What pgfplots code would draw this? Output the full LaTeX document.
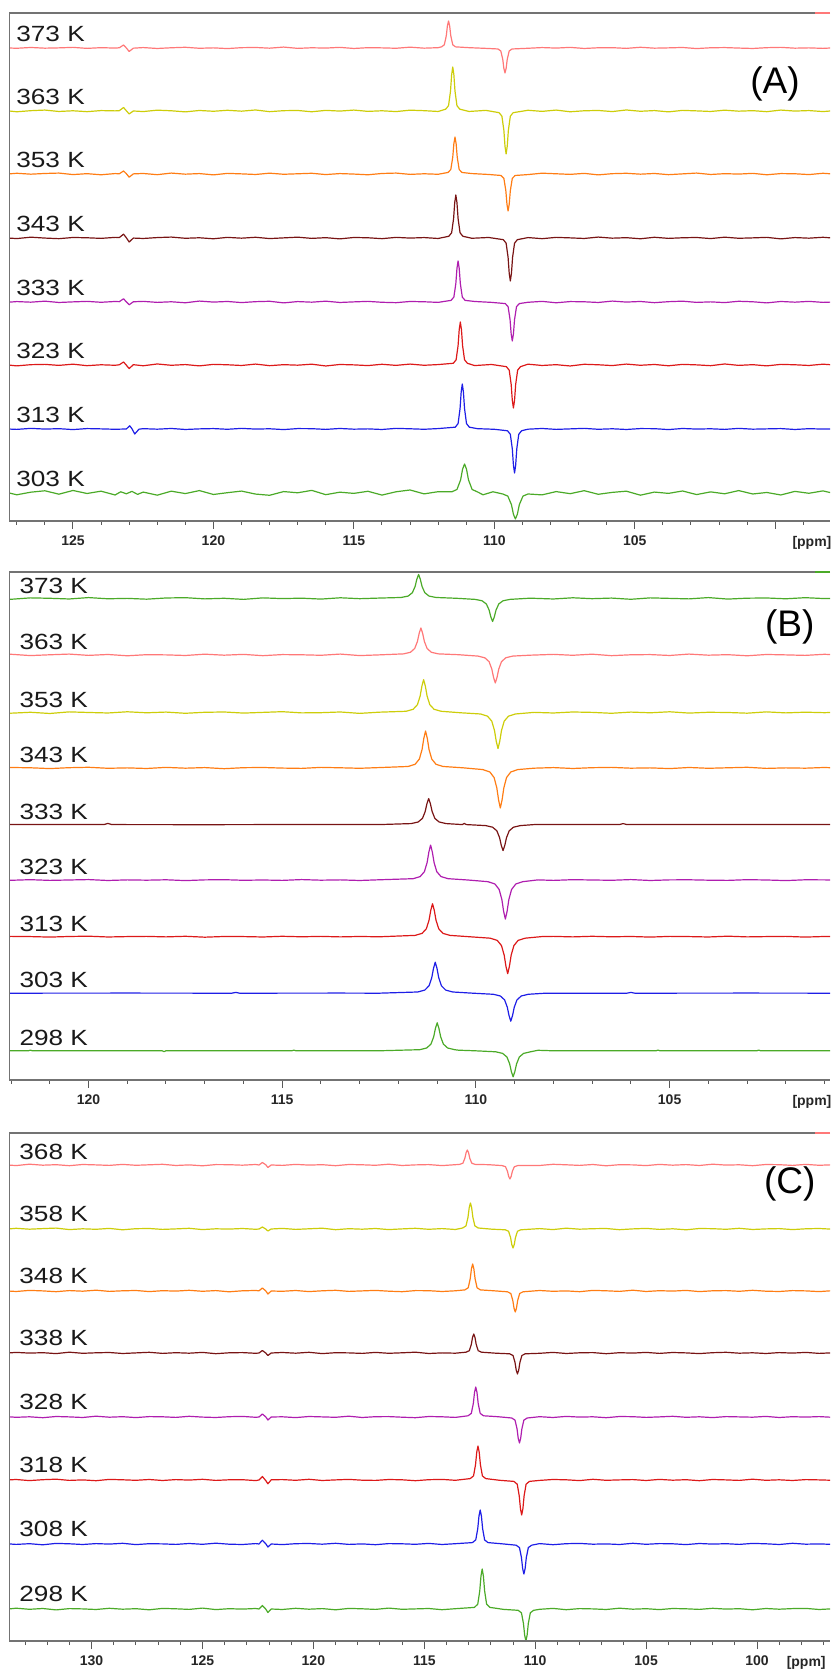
\documentclass[border=0pt]{standalone}
\usepackage{pgfplots}
\pgfplotsset{compat=1.18}
\usepackage{fontspec}
\setmainfont{Liberation Sans}
\definecolor{cpink}{RGB}{255,120,120}
\definecolor{cyel}{RGB}{205,205,10}
\definecolor{corg}{RGB}{255,125,20}
\definecolor{cbrn}{RGB}{120,20,20}
\definecolor{cpur}{RGB}{175,30,175}
\definecolor{cred}{RGB}{220,25,25}
\definecolor{cblu}{RGB}{30,30,230}
\definecolor{cgrn}{RGB}{75,170,40}
\newcommand{\lab}[1]{\scalebox{1.19}[1]{#1}}
\tikzset{klab/.style={anchor=west, inner sep=0pt, font=\fontsize{11}{13}\selectfont, text=black!90},
 plab/.style={anchor=center, inner sep=0pt, font=\fontsize{18.5}{22}\selectfont},
 ppm/.style={anchor=north, font=\fontsize{7}{8}\selectfont\bfseries, text=black!85, yshift=-4pt}}
\pgfplotsset{spec/.style={scale only axis, width=410.25pt, height=254pt, x dir=reverse,
 ymin=0, ymax=508, ytick=\empty, axis line style={draw=none}, xtick pos=lower,
 tick align=outside, major tick length=4pt, minor tick length=2pt,
 tick style={black!65, line width=0.5pt}, clip mode=individual,
 /pgf/number format/assume math mode=true,
 xticklabel style={font=\fontsize{7}{8}\selectfont\bfseries, text=black!85},
 every axis plot/.append style={line width=0.6pt, line join=round, mark=none}}}
\begin{document}
\begin{tikzpicture}
% ================= PANEL A =================
\begin{axis}[spec, at={(4.75pt,576pt)}, anchor=south west, xmin=98.05, xmax=127.26,
 xtick={100,105,110,115,120,125}, xticklabels={,105,110,115,120,125}, minor xtick={98,...,127}]
\addplot[cpink] table[row sep=\\, y expr=\thisrowno{1}+473] {
127.5 0.2\\127.0 -0.3\\126.5 0.5\\126.0 -0.2\\125.5 0.1\\125.0 0.6\\124.5 -0.4\\124.0 0.3\\123.5 -0.1\\
123.35 0.2\\123.2 3.0\\123.1 0.0\\123.0 -3.5\\122.85 -0.2\\
122.5 0.4\\122.0 -0.5\\121.5 0.2\\121.0 0.7\\120.5 -0.3\\120.0 0.1\\119.5 -0.6\\119.0 0.3\\118.5 0.5\\118.0 -0.2\\117.5 0.9\\117.0 -0.4\\116.5 0.2\\116.0 -0.1\\115.5 0.6\\115.0 -0.5\\114.5 0.3\\114.0 0.1\\113.5 -0.3\\113.0 0.8\\112.5 -0.2\\112.0 0.3\\
111.88 1.1\\111.78 3.2\\111.71 12.2\\111.67 22.1\\111.63 27\\111.59 22.1\\111.55 12.2\\111.48 3.2\\111.38 1.1\\
110.9 0.3\\110.3 -0.4\\
109.87 -1.0\\109.77 -3.0\\109.70 -11.3\\109.66 -20.5\\109.62 -25\\109.58 -20.5\\109.54 -11.3\\109.47 -3.0\\109.37 -1.0\\
108.8 -0.3\\108.3 0.4\\107.8 -0.1\\107.3 0.6\\106.8 -0.5\\106.3 0.2\\105.8 0.3\\105.3 -0.4\\104.8 0.7\\104.3 -0.2\\103.8 0.1\\103.3 0.5\\102.8 -0.6\\102.3 0.2\\101.8 0.4\\101.3 -0.1\\100.8 -0.5\\100.3 0.3\\99.8 0.6\\99.3 -0.2\\98.8 0.1\\98.3 -0.4\\97.8 0.3\\
};
\addplot[cyel] table[row sep=\\, y expr=\thisrowno{1}+410] {
127.5 0.6\\127.0 -0.8\\126.5 0.3\\126.0 0.9\\125.5 -0.5\\125.0 0.2\\124.5 -0.7\\124.0 0.4\\123.5 0.1\\
123.35 0.3\\123.2 3.5\\123.1 0.2\\123.0 -3.0\\122.85 0.0\\
122.5 -0.6\\122.0 0.8\\121.5 0.2\\121.0 -0.9\\120.5 0.5\\120.0 -0.3\\119.5 0.7\\119.0 -0.2\\118.5 1.0\\118.0 -0.7\\117.5 0.3\\117.0 0.5\\116.5 -0.8\\116.0 0.6\\115.5 -0.1\\115.0 0.9\\114.5 -0.4\\114.0 0.2\\113.5 -0.6\\113.0 0.8\\112.5 0.3\\112.0 -0.5\\
111.73 1.8\\111.63 5.3\\111.56 19.8\\111.52 36.1\\111.48 44\\111.44 36.1\\111.40 19.8\\111.33 5.3\\111.23 1.8\\
110.9 -0.5\\110.3 0.6\\
109.83 -1.7\\109.73 -5.2\\109.66 -19.4\\109.62 -35.3\\109.58 -43\\109.54 -35.3\\109.50 -19.4\\109.43 -5.2\\109.33 -1.7\\
108.8 0.7\\108.3 -0.4\\107.8 0.9\\107.3 -0.8\\106.8 0.2\\106.3 0.5\\105.8 -0.6\\105.3 1.0\\104.8 -0.3\\104.3 0.4\\103.8 -0.9\\103.3 0.6\\102.8 0.1\\102.3 -0.5\\101.8 0.8\\101.3 -0.2\\100.8 0.3\\100.3 -0.7\\99.8 0.9\\99.3 -0.1\\98.8 0.4\\98.3 -0.6\\97.8 0.5\\
};
\addplot[corg] table[row sep=\\, y expr=\thisrowno{1}+347] {
127.5 -0.4\\127.0 0.7\\126.5 -0.2\\126.0 0.5\\125.5 0.9\\125.0 -0.6\\124.5 0.3\\124.0 -0.8\\123.5 0.4\\
123.35 0.2\\123.2 3.0\\123.1 0.3\\123.0 -3.2\\122.85 0.1\\
122.5 0.5\\122.0 -0.7\\121.5 0.9\\121.0 -0.2\\120.5 0.4\\120.0 -0.9\\119.5 0.6\\119.0 0.1\\118.5 -0.5\\118.0 0.8\\117.5 -0.3\\117.0 0.2\\116.5 0.7\\116.0 -0.6\\115.5 0.4\\115.0 -0.1\\114.5 -0.8\\114.0 0.5\\113.5 0.9\\113.0 -0.4\\112.5 0.2\\112.0 -0.3\\
111.65 1.5\\111.55 4.4\\111.48 16.7\\111.44 30.3\\111.40 37\\111.36 30.3\\111.32 16.7\\111.25 4.4\\111.15 1.5\\
110.8 0.4\\110.2 -0.5\\
109.76 -1.5\\109.66 -4.4\\109.59 -16.7\\109.55 -30.3\\109.51 -37\\109.47 -30.3\\109.43 -16.7\\109.36 -4.4\\109.26 -1.5\\
108.8 -0.6\\108.3 0.8\\107.8 0.2\\107.3 -0.4\\106.8 0.6\\106.3 -0.9\\105.8 0.3\\105.3 0.7\\104.8 -0.2\\104.3 0.5\\103.8 -0.7\\103.3 0.1\\102.8 0.9\\102.3 -0.5\\101.8 0.3\\101.3 -0.1\\100.8 0.6\\100.3 -0.8\\99.8 0.4\\99.3 0.2\\98.8 -0.6\\98.3 0.7\\97.8 -0.3\\
};
\addplot[cbrn] table[row sep=\\, y expr=\thisrowno{1}+283] {
127.5 0.3\\127.0 -0.6\\126.5 0.8\\126.0 -0.1\\125.5 -0.7\\125.0 0.5\\124.5 0.2\\124.0 -0.4\\123.5 0.6\\
123.35 0.4\\123.2 3.8\\123.1 0.2\\123.0 -4.0\\122.85 -0.1\\
122.5 -0.5\\122.0 0.4\\121.5 0.9\\121.0 -0.3\\120.5 0.2\\120.0 -0.8\\119.5 0.6\\119.0 -0.2\\118.5 0.7\\118.0 -0.6\\117.5 0.1\\117.0 0.8\\116.5 -0.4\\116.0 0.3\\115.5 -0.9\\115.0 0.5\\114.5 0.2\\114.0 -0.7\\113.5 0.6\\113.0 -0.1\\112.5 0.4\\112.0 -0.5\\
111.62 1.7\\111.52 5.2\\111.45 19.4\\111.41 35.3\\111.37 43\\111.33 35.3\\111.29 19.4\\111.22 5.2\\111.12 1.7\\
110.8 -0.3\\110.2 0.5\\
109.68 -1.7\\109.58 -5.2\\109.51 -19.4\\109.47 -35.3\\109.43 -43\\109.39 -35.3\\109.35 -19.4\\109.28 -5.2\\109.18 -1.7\\
108.8 0.4\\108.3 -0.7\\107.8 0.6\\107.3 0.1\\106.8 -0.5\\106.3 0.9\\105.8 -0.2\\105.3 0.3\\104.8 -0.8\\104.3 0.7\\103.8 -0.4\\103.3 0.2\\102.8 0.5\\102.3 -0.6\\101.8 0.8\\101.3 -0.3\\100.8 0.1\\100.3 0.6\\99.8 -0.9\\99.3 0.4\\98.8 -0.2\\98.3 0.7\\97.8 -0.4\\
};
\addplot[cpur] table[row sep=\\, y expr=\thisrowno{1}+219] {
127.5 -0.7\\127.0 0.4\\126.5 -0.2\\126.0 0.8\\125.5 -0.5\\125.0 0.1\\124.5 0.6\\124.0 -0.3\\123.5 0.5\\
123.35 0.3\\123.2 3.2\\123.1 0.1\\123.0 -2.8\\122.85 0.2\\
122.5 0.6\\122.0 -0.4\\121.5 0.2\\121.0 -0.8\\120.5 0.9\\120.0 -0.1\\119.5 0.5\\119.0 -0.6\\118.5 0.3\\118.0 0.7\\117.5 -0.9\\117.0 0.4\\116.5 -0.2\\116.0 0.8\\115.5 -0.5\\115.0 0.1\\114.5 0.6\\114.0 -0.3\\113.5 -0.7\\113.0 0.5\\112.5 0.2\\112.0 -0.4\\
111.54 1.6\\111.44 4.9\\111.37 18.5\\111.33 33.6\\111.29 41\\111.25 33.6\\111.21 18.5\\111.14 4.9\\111.04 1.6\\
110.7 0.5\\110.1 -0.4\\
109.61 -1.6\\109.51 -4.7\\109.44 -17.6\\109.40 -32.0\\109.36 -39\\109.32 -32.0\\109.28 -17.6\\109.21 -4.7\\109.11 -1.6\\
108.8 -0.3\\108.3 0.6\\107.8 -0.8\\107.3 0.4\\106.8 0.2\\106.3 -0.5\\105.8 0.9\\105.3 -0.1\\104.8 0.5\\104.3 -0.7\\103.8 0.3\\103.3 0.8\\102.8 -0.4\\102.3 0.1\\101.8 -0.6\\101.3 0.7\\100.8 0.2\\100.3 -0.9\\99.8 0.5\\99.3 -0.2\\98.8 0.6\\98.3 -0.4\\97.8 0.1\\
};
\addplot[cred] table[row sep=\\, y expr=\thisrowno{1}+156] {
127.5 0.5\\127.0 -0.9\\126.5 0.3\\126.0 0.6\\125.5 -0.4\\125.0 0.8\\124.5 -0.7\\124.0 0.2\\123.5 -0.3\\
123.35 0.2\\123.2 3.0\\123.1 -0.2\\123.0 -3.6\\122.85 0.3\\
122.5 -0.8\\122.0 1.0\\121.5 -0.3\\121.0 0.4\\120.5 -0.9\\120.0 0.6\\119.5 0.2\\119.0 -0.5\\118.5 0.9\\118.0 -0.7\\117.5 0.3\\117.0 -0.2\\116.5 0.8\\116.0 -1.0\\115.5 0.5\\115.0 0.1\\114.5 -0.6\\114.0 0.7\\113.5 -0.4\\113.0 0.9\\112.5 -0.3\\112.0 0.4\\
111.46 1.7\\111.36 5.2\\111.29 19.4\\111.25 35.3\\111.21 43\\111.17 35.3\\111.13 19.4\\111.06 5.2\\110.96 1.7\\
110.7 -0.6\\110.1 0.5\\
109.57 -1.7\\109.47 -5.2\\109.40 -19.4\\109.36 -35.3\\109.32 -43\\109.28 -35.3\\109.24 -19.4\\109.17 -5.2\\109.07 -1.7\\
108.8 0.8\\108.3 -0.5\\107.8 0.3\\107.3 -1.0\\106.8 0.7\\106.3 0.2\\105.8 -0.6\\105.3 0.9\\104.8 -0.3\\104.3 0.5\\103.8 -0.8\\103.3 0.6\\102.8 0.1\\102.3 -0.7\\101.8 1.0\\101.3 -0.4\\100.8 0.3\\100.3 -0.9\\99.8 0.6\\99.3 0.2\\98.8 -0.5\\98.3 0.8\\97.8 -0.2\\
};
\addplot[cblu] table[row sep=\\, y expr=\thisrowno{1}+92] {
127.5 0.2\\127.0 -0.4\\126.5 0.6\\126.0 -0.1\\125.5 0.3\\125.0 -0.6\\124.5 0.4\\124.0 0.1\\123.5 -0.3\\
123.1 0.0\\122.98 3.2\\122.9 0.2\\122.8 -5.0\\122.65 -0.2\\
122.5 0.3\\122.0 -0.2\\121.5 0.5\\121.0 -0.5\\120.5 0.1\\120.0 0.4\\119.5 -0.3\\119.0 0.6\\118.5 -0.1\\118.0 0.2\\117.5 -0.6\\117.0 0.4\\116.5 0.3\\116.0 -0.4\\115.5 0.5\\115.0 -0.2\\114.5 0.1\\114.0 -0.5\\113.5 0.6\\113.0 0.2\\112.5 -0.3\\112.0 0.4\\
111.39 1.8\\111.29 5.4\\111.22 20.3\\111.18 36.9\\111.14 45\\111.10 36.9\\111.06 20.3\\110.99 5.4\\110.89 1.8\\
110.6 0.3\\110.0 -0.3\\
109.53 -1.8\\109.43 -5.3\\109.36 -19.8\\109.32 -36.1\\109.28 -44\\109.24 -36.1\\109.20 -19.8\\109.13 -5.3\\109.03 -1.8\\
108.8 -0.2\\108.3 0.5\\107.8 -0.4\\107.3 0.1\\106.8 0.6\\106.3 -0.3\\105.8 0.2\\105.3 -0.5\\104.8 0.4\\104.3 0.3\\103.8 -0.6\\103.3 0.5\\102.8 -0.1\\102.3 0.2\\101.8 -0.4\\101.3 0.6\\100.8 -0.2\\100.3 0.1\\99.8 0.4\\99.3 -0.5\\98.8 0.3\\98.3 -0.1\\97.8 0.2\\
};
\addplot[cgrn] table[row sep=\\, y expr=\thisrowno{1}+28] {
127.5 1.5\\127.0 -1.8\\126.5 0.8\\126.0 2.2\\125.5 -1.2\\125.0 2.5\\124.5 -0.5\\124.0 1.8\\123.5 -2.0\\
123.3 1.2\\123.1 -0.8\\122.9 1.6\\122.7 -1.4\\
122.5 0.9\\122.0 -2.2\\121.5 1.8\\121.0 -0.6\\120.5 2.4\\120.0 -1.5\\119.5 0.3\\119.0 1.9\\118.5 -1.1\\118.0 -2.3\\117.5 1.4\\117.0 0.2\\116.5 2.6\\116.0 -1.7\\115.5 0.8\\115.0 -0.4\\114.5 1.7\\114.0 -2.1\\113.5 1.2\\113.0 3.0\\112.5 -0.9\\112.0 1.3\\
111.51 1.2\\111.33 3.5\\111.20 13.1\\111.13 23.8\\111.06 29\\110.99 23.8\\110.92 13.1\\110.79 3.5\\110.61 1.2\\
110.4 -1.8\\110.05 1.2\\
109.70 -1.0\\109.52 -3.1\\109.39 -11.7\\109.32 -21.3\\109.25 -26\\109.18 -21.3\\109.11 -11.7\\108.98 -3.1\\108.80 -1.0\\
108.3 -1.9\\107.8 1.4\\107.3 -0.7\\106.8 2.3\\106.3 -1.3\\105.8 0.6\\105.3 1.8\\104.8 -2.2\\104.3 0.9\\103.8 -0.4\\103.3 2.0\\102.8 -1.6\\102.3 1.1\\101.8 -0.8\\101.3 2.4\\100.8 -1.0\\100.3 0.5\\99.8 -2.0\\99.3 1.6\\98.8 -0.3\\98.3 2.1\\97.8 -1.2\\
};
\draw[black!55, line width=0.8pt] (axis description cs:1,1) -- (axis description cs:0,1) -- (axis description cs:0,0) -- (axis description cs:1,0);
\draw[cpink, line width=0.9pt] (axis description cs:0.982,1) -- (axis description cs:1,1);
\node[klab] at (axis cs:127.03,487) {\lab{373 K}};
\node[klab] at (axis cs:127.03,424) {\lab{363 K}};
\node[klab] at (axis cs:127.03,361) {\lab{353 K}};
\node[klab] at (axis cs:127.03,297) {\lab{343 K}};
\node[klab] at (axis cs:127.03,233) {\lab{333 K}};
\node[klab] at (axis cs:127.03,170) {\lab{323 K}};
\node[klab] at (axis cs:127.03,106) {\lab{313 K}};
\node[klab] at (axis cs:127.03,42) {\lab{303 K}};
\node[plab] at (axis description cs:0.933,0.860) {(A)};
\node[ppm] at (axis description cs:0.978,0) {[ppm]};
\end{axis}
% ================= PANEL B =================
\begin{axis}[spec, at={(4.75pt,296.5pt)}, anchor=south west, xmin=100.86, xmax=122.04,
 xtick={105,110,115,120}, xticklabels={105,110,115,120}, minor xtick={101,...,122}]
\addplot[cgrn] table[row sep=\\, y expr=\thisrowno{1}+481.5] {
122.5 0.4\\122.0 -0.8\\121.5 0.6\\121.0 0.2\\120.5 -0.5\\120.0 0.9\\119.5 -0.3\\119.0 0.1\\118.5 -0.7\\118.0 0.5\\117.5 0.8\\117.0 -0.4\\116.5 0.2\\116.0 -0.9\\115.5 0.6\\115.0 -0.1\\114.5 0.3\\114.0 -0.6\\113.5 0.7\\113.0 -0.2\\112.5 0.4\\
111.93 1.0\\111.75 2.4\\111.64 5.8\\111.57 12.0\\111.525 19.2\\111.48 24\\111.435 19.2\\111.39 12.0\\111.32 5.8\\111.21 2.4\\111.03 1.0\\
110.5 0.2\\
110.02 -0.9\\109.84 -2.3\\109.73 -5.5\\109.66 -11.5\\109.615 -18.4\\109.57 -23\\109.525 -18.4\\109.48 -11.5\\109.41 -5.5\\109.30 -2.3\\109.12 -0.9\\
108.6 0.3\\108.0 -0.5\\107.5 0.7\\107.0 -0.2\\106.5 0.4\\106.0 -0.8\\105.5 0.6\\105.0 0.1\\104.5 -0.4\\104.0 0.9\\103.5 -0.6\\103.0 0.3\\102.5 0.5\\102.0 -0.3\\101.5 0.8\\101.0 -0.1\\100.5 0.4\\
};
\addplot[cpink] table[row sep=\\, y expr=\thisrowno{1}+425] {
122.5 -0.3\\122.0 0.7\\121.5 -0.6\\121.0 0.2\\120.5 0.9\\120.0 -0.4\\119.5 0.5\\119.0 -0.8\\118.5 0.3\\118.0 0.1\\117.5 -0.5\\117.0 0.8\\116.5 -0.2\\116.0 0.6\\115.5 -0.7\\115.0 0.4\\114.5 0.2\\114.0 -0.3\\113.5 0.9\\113.0 -0.6\\112.5 0.1\\
111.87 1.1\\111.69 2.7\\111.58 6.5\\111.51 13.5\\111.465 21.6\\111.42 27\\111.375 21.6\\111.33 13.5\\111.26 6.5\\111.15 2.7\\110.97 1.1\\
110.46 0.3\\
109.95 -1.1\\109.77 -2.8\\109.66 -6.7\\109.59 -14\\109.545 -22.4\\109.50 -28\\109.455 -22.4\\109.41 -14\\109.34 -6.7\\109.23 -2.8\\109.05 -1.1\\
108.6 -0.2\\108.0 0.6\\107.5 -0.3\\107.0 0.8\\106.5 -0.7\\106.0 0.2\\105.5 0.4\\105.0 -0.5\\104.5 0.9\\104.0 -0.2\\103.5 0.3\\103.0 -0.8\\102.5 0.5\\102.0 0.1\\101.5 -0.4\\101.0 0.7\\100.5 -0.3\\
};
\addplot[cyel] table[row sep=\\, y expr=\thisrowno{1}+367.4] {
122.5 0.5\\122.0 -0.6\\121.5 0.3\\121.0 -0.9\\120.5 0.7\\120.0 0.1\\119.5 -0.4\\119.0 0.8\\118.5 -0.2\\118.0 0.5\\117.5 -0.7\\117.0 0.3\\116.5 0.6\\116.0 -0.5\\115.5 0.2\\115.0 0.9\\114.5 -0.3\\114.0 -0.1\\113.5 0.6\\113.0 -0.8\\112.5 0.4\\
111.80 1.3\\111.62 3.3\\111.51 7.9\\111.44 16.5\\111.395 26.4\\111.35 33\\111.305 26.4\\111.26 16.5\\111.19 7.9\\111.08 3.3\\110.90 1.3\\
110.39 -0.2\\
109.88 -1.4\\109.70 -3.6\\109.59 -8.6\\109.52 -18\\109.475 -28.8\\109.43 -36\\109.385 -28.8\\109.34 -18\\109.27 -8.6\\109.16 -3.6\\108.98 -1.4\\
108.5 0.2\\108.0 -0.4\\107.5 0.6\\107.0 0.2\\106.5 -0.7\\106.0 0.5\\105.5 -0.2\\105.0 0.8\\104.5 -0.5\\104.0 0.3\\103.5 0.1\\103.0 -0.6\\102.5 0.7\\102.0 -0.3\\101.5 0.4\\101.0 -0.1\\100.5 0.5\\
};
\addplot[corg] table[row sep=\\, y expr=\thisrowno{1}+312] {
122.5 -0.4\\122.0 0.5\\121.5 0.2\\121.0 -0.6\\120.5 0.3\\120.0 0.7\\119.5 -0.3\\119.0 0.1\\118.5 -0.5\\118.0 0.6\\117.5 -0.2\\117.0 0.4\\116.5 -0.7\\116.0 0.3\\115.5 0.5\\115.0 -0.1\\114.5 -0.4\\114.0 0.6\\113.5 0.2\\113.0 -0.3\\112.5 0.4\\
111.75 1.5\\111.57 3.7\\111.46 8.9\\111.39 18.5\\111.345 29.6\\111.30 37\\111.255 29.6\\111.21 18.5\\111.14 8.9\\111.03 3.7\\110.85 1.5\\
110.34 0.2\\
109.82 -1.6\\109.64 -4.0\\109.53 -9.6\\109.46 -20\\109.415 -32\\109.37 -40\\109.325 -32\\109.28 -20\\109.21 -9.6\\109.10 -4.0\\108.92 -1.6\\
108.5 -0.2\\108.0 0.4\\107.5 -0.5\\107.0 0.3\\106.5 0.6\\106.0 -0.2\\105.5 0.1\\105.0 -0.6\\104.5 0.5\\104.0 -0.3\\103.5 0.2\\103.0 0.7\\102.5 -0.4\\102.0 0.1\\101.5 -0.2\\101.0 0.5\\100.5 -0.3\\
};
\addplot[cbrn] table[row sep=\\, y expr=\thisrowno{1}+255.4] {
122.5 0.0\\120.5 0.1\\119.6 0.0\\119.5 1.2\\119.4 0.0\\117.0 -0.1\\114.0 0.1\\112.5 0.0\\
111.67 1.0\\111.49 2.6\\111.38 6.2\\111.31 13\\111.265 20.8\\111.22 26\\111.175 20.8\\111.13 13\\111.06 6.2\\110.95 2.6\\110.77 1.0\\
110.35 0.0\\110.3 1.2\\110.25 0.0\\
109.75 -1.0\\109.57 -2.6\\109.46 -6.2\\109.39 -13\\109.345 -20.8\\109.30 -26\\109.255 -20.8\\109.21 -13\\109.14 -6.2\\109.03 -2.6\\108.85 -1.0\\
108.5 0.0\\106.3 0.0\\106.2 1.0\\106.1 0.0\\103.0 0.1\\100.5 0.0\\
};
\addplot[cpur] table[row sep=\\, y expr=\thisrowno{1}+199.9] {
122.5 0.3\\122.0 -0.2\\121.5 0.4\\121.0 -0.3\\120.5 0.1\\120.0 0.5\\119.5 -0.4\\119.0 0.2\\118.5 -0.1\\118.0 0.3\\117.5 -0.5\\117.0 0.2\\116.5 0.4\\116.0 -0.2\\115.5 0.1\\115.0 -0.3\\114.5 0.5\\114.0 -0.1\\113.5 0.2\\113.0 -0.4\\112.5 0.3\\
111.62 1.4\\111.44 3.5\\111.33 8.4\\111.26 17.5\\111.215 28\\111.17 35\\111.125 28\\111.08 17.5\\111.01 8.4\\110.90 3.5\\110.72 1.4\\
110.21 0.1\\
109.69 -1.6\\109.51 -3.9\\109.40 -9.4\\109.33 -19.5\\109.285 -31.2\\109.24 -39\\109.195 -31.2\\109.15 -19.5\\109.08 -9.4\\108.97 -3.9\\108.79 -1.6\\
108.4 0.2\\108.0 -0.3\\107.5 0.4\\107.0 0.1\\106.5 -0.2\\106.0 0.5\\105.5 -0.4\\105.0 0.2\\104.5 0.3\\104.0 -0.1\\103.5 -0.3\\103.0 0.4\\102.5 0.1\\102.0 -0.5\\101.5 0.3\\101.0 0.2\\100.5 -0.2\\
};
\addplot[cred] table[row sep=\\, y expr=\thisrowno{1}+143.3] {
122.5 -0.2\\122.0 0.3\\121.5 0.1\\121.0 -0.4\\120.5 0.2\\120.0 0.5\\119.5 -0.3\\119.0 0.1\\118.5 0.3\\118.0 -0.2\\117.5 0.4\\117.0 -0.5\\116.5 0.2\\116.0 0.1\\115.5 -0.3\\115.0 0.4\\114.5 -0.1\\114.0 0.3\\113.5 -0.2\\113.0 0.2\\112.5 -0.1\\
111.57 1.3\\111.39 3.3\\111.28 7.9\\111.21 16.5\\111.165 26.4\\111.12 33\\111.075 26.4\\111.03 16.5\\110.96 7.9\\110.85 3.3\\110.67 1.3\\
110.15 -0.1\\
109.63 -1.5\\109.45 -3.7\\109.34 -8.9\\109.27 -18.5\\109.225 -29.6\\109.18 -37\\109.135 -29.6\\109.09 -18.5\\109.02 -8.9\\108.91 -3.7\\108.73 -1.5\\
108.3 0.1\\108.0 0.3\\107.5 -0.2\\107.0 0.4\\106.5 -0.1\\106.0 0.2\\105.5 -0.4\\105.0 0.3\\104.5 0.1\\104.0 -0.3\\103.5 0.5\\103.0 -0.2\\102.5 0.1\\102.0 0.3\\101.5 -0.4\\101.0 0.2\\100.5 -0.1\\
};
\addplot[cblu] table[row sep=\\, y expr=\thisrowno{1}+86.8] {
122.5 0.0\\119.0 0.1\\116.3 0.0\\116.2 0.8\\116.1 0.0\\113.5 0.1\\112.5 0.0\\
111.50 1.2\\111.32 3.1\\111.21 7.4\\111.14 15.5\\111.095 24.8\\111.05 31\\111.005 24.8\\110.96 15.5\\110.89 7.4\\110.78 3.1\\110.60 1.2\\
110.08 0.0\\
109.55 -1.1\\109.37 -2.8\\109.26 -6.7\\109.19 -14\\109.145 -22.4\\109.10 -28\\109.055 -22.4\\109.01 -14\\108.94 -6.7\\108.83 -2.8\\108.65 -1.1\\
108.2 0.0\\106.1 0.0\\106.0 0.8\\105.9 0.0\\103.0 0.1\\100.5 0.0\\
};
\addplot[cgrn] table[row sep=\\, y expr=\thisrowno{1}+29.2] {
122.5 0.0\\121.55 0.0\\121.5 0.7\\121.45 0.0\\118.1 0.0\\118.05 -0.8\\118.0 0.0\\114.75 0.0\\114.7 0.7\\114.65 0.0\\112.5 0.0\\
111.45 1.1\\111.27 2.8\\111.16 6.7\\111.09 14\\111.045 22.4\\111.00 28\\110.955 22.4\\110.91 14\\110.84 6.7\\110.73 2.8\\110.55 1.1\\
110.45 0.6\\110.02 0.0\\
109.49 -1.0\\109.31 -2.6\\109.20 -6.2\\109.13 -13\\109.085 -20.8\\109.04 -26\\108.995 -20.8\\108.95 -13\\108.88 -6.2\\108.77 -2.6\\108.59 -1.0\\
108.4 0.5\\108.0 0.0\\105.35 0.0\\105.3 0.7\\105.25 0.0\\102.75 0.0\\102.7 0.7\\102.65 0.0\\100.5 0.0\\
};
\draw[black!55, line width=0.8pt] (axis description cs:1,1) -- (axis description cs:0,1) -- (axis description cs:0,0) -- (axis description cs:1,0);
\draw[cgrn, line width=0.9pt] (axis description cs:0.982,1) -- (axis description cs:1,1);
\node[klab] at (axis cs:121.79,494.5) {\lab{373 K}};
\node[klab] at (axis cs:121.79,438) {\lab{363 K}};
\node[klab] at (axis cs:121.79,380.4) {\lab{353 K}};
\node[klab] at (axis cs:121.79,325) {\lab{343 K}};
\node[klab] at (axis cs:121.79,268.4) {\lab{333 K}};
\node[klab] at (axis cs:121.79,212.9) {\lab{323 K}};
\node[klab] at (axis cs:121.79,156.3) {\lab{313 K}};
\node[klab] at (axis cs:121.79,99.8) {\lab{303 K}};
\node[klab] at (axis cs:121.79,42.2) {\lab{298 K}};
\node[plab] at (axis description cs:0.951,0.892) {(B)};
\node[ppm] at (axis description cs:0.978,0) {[ppm]};
\end{axis}
% ================= PANEL C =================
\begin{axis}[spec, at={(4.75pt,16pt)}, anchor=south west, xmin=96.71, xmax=133.70,
 xtick={100,105,110,115,120,125,130}, xticklabels={100,105,110,115,120,125,130}, minor xtick={97,...,133}]
\addplot[cpink] table[row sep=\\, y expr=\thisrowno{1}+476] {
134.0 0.4\\133.4 -0.6\\132.8 0.8\\132.2 -0.2\\131.6 0.3\\131.0 -0.7\\130.4 0.5\\129.8 0.1\\129.2 -0.4\\128.6 0.6\\128.0 -0.3\\127.4 0.2\\126.8 0.7\\126.2 -0.5\\125.6 0.1\\125.0 -0.8\\124.4 0.4\\123.8 0.3\\123.2 -0.2\\122.6 0.5\\
122.45 0.0\\122.3 2.5\\122.15 0.3\\122.05 -2.5\\121.9 0.0\\
121.4 -0.4\\120.8 0.6\\120.2 -0.1\\119.6 0.3\\119.0 -0.7\\118.4 0.5\\117.8 0.2\\117.2 -0.3\\116.6 0.8\\116.0 -0.5\\115.4 0.1\\114.8 0.4\\114.2 -0.6\\113.6 0.3\\
113.41 0.6\\113.26 1.8\\113.17 6.8\\113.115 12.3\\113.06 15\\113.005 12.3\\112.95 6.8\\112.86 1.8\\112.71 0.6\\
112.1 0.3\\
111.49 -0.6\\111.34 -1.7\\111.25 -6.3\\111.195 -11.5\\111.14 -14\\111.085 -11.5\\111.03 -6.3\\110.94 -1.7\\110.79 -0.6\\
109.8 -0.5\\109.2 0.7\\108.6 0.2\\108.0 -0.4\\107.4 0.5\\106.8 -0.8\\106.2 0.3\\105.6 0.1\\105.0 -0.6\\104.4 0.6\\103.8 -0.2\\103.2 0.4\\102.6 -0.5\\102.0 0.8\\101.4 -0.1\\100.8 0.2\\100.2 -0.7\\99.6 0.5\\99.0 0.3\\98.4 -0.4\\97.8 0.6\\97.2 -0.3\\96.6 0.2\\
};
\addplot[cyel] table[row sep=\\, y expr=\thisrowno{1}+412] {
134.0 -0.5\\133.4 0.7\\132.8 -0.2\\132.2 0.4\\131.6 0.9\\131.0 -0.6\\130.4 0.2\\129.8 -0.3\\129.2 0.6\\128.6 -0.8\\128.0 0.3\\127.4 0.5\\126.8 -0.4\\126.2 0.1\\125.6 0.7\\125.0 -0.6\\124.4 0.2\\123.8 -0.1\\123.2 0.5\\122.6 -0.3\\
122.45 0.0\\122.3 2.0\\122.15 0.0\\122.05 -2.0\\121.9 0.0\\
121.4 0.6\\120.8 -0.4\\120.2 0.2\\119.6 0.8\\119.0 -0.7\\118.4 0.3\\117.8 -0.2\\117.2 0.5\\116.6 -0.6\\116.0 0.1\\115.4 0.7\\114.8 -0.3\\114.2 0.4\\113.6 -0.5\\
113.27 1.0\\113.12 3.1\\113.03 11.7\\112.975 21.3\\112.92 26\\112.865 21.3\\112.81 11.7\\112.72 3.1\\112.57 1.0\\
111.95 -0.2\\
111.35 -0.8\\111.20 -2.3\\111.11 -8.6\\111.055 -15.6\\111.00 -19\\110.945 -15.6\\110.89 -8.6\\110.80 -2.3\\110.65 -0.8\\
109.8 0.4\\109.2 -0.6\\108.6 0.8\\108.0 -0.2\\107.4 0.3\\106.8 0.5\\106.2 -0.7\\105.6 0.1\\105.0 0.6\\104.4 -0.4\\103.8 0.2\\103.2 -0.8\\102.6 0.5\\102.0 0.3\\101.4 -0.3\\100.8 0.7\\100.2 -0.5\\99.6 0.1\\99.0 0.4\\98.4 -0.6\\97.8 0.2\\97.2 0.5\\96.6 -0.2\\
};
\addplot[corg] table[row sep=\\, y expr=\thisrowno{1}+350] {
134.0 0.3\\133.4 -0.5\\132.8 0.6\\132.2 0.1\\131.6 -0.7\\131.0 0.4\\130.4 -0.2\\129.8 0.8\\129.2 -0.4\\128.6 0.2\\128.0 0.5\\127.4 -0.6\\126.8 0.3\\126.2 -0.1\\125.6 0.7\\125.0 -0.3\\124.4 0.4\\123.8 -0.8\\123.2 0.2\\122.6 0.5\\
122.45 0.2\\122.3 3.0\\122.15 0.2\\122.05 -3.0\\121.9 0.0\\
121.4 -0.3\\120.8 0.5\\120.2 -0.6\\119.6 0.2\\119.0 0.7\\118.4 -0.4\\117.8 0.1\\117.2 0.6\\116.6 -0.2\\116.0 -0.7\\115.4 0.4\\114.8 0.3\\114.2 -0.5\\113.6 0.2\\
113.17 1.1\\113.02 3.2\\112.93 12.2\\112.875 22.1\\112.82 27\\112.765 22.1\\112.71 12.2\\112.62 3.2\\112.47 1.1\\
111.86 0.2\\
111.25 -0.8\\111.10 -2.5\\111.01 -9.5\\110.955 -17.2\\110.90 -21\\110.845 -17.2\\110.79 -9.5\\110.70 -2.5\\110.55 -0.8\\
109.8 0.5\\109.2 -0.3\\108.6 0.1\\108.0 -0.7\\107.4 0.6\\106.8 0.2\\106.2 -0.4\\105.6 0.8\\105.0 -0.5\\104.4 0.3\\103.8 -0.1\\103.2 0.6\\102.6 -0.6\\102.0 0.2\\101.4 0.4\\100.8 -0.3\\100.2 0.7\\99.6 -0.2\\99.0 -0.5\\98.4 0.4\\97.8 0.1\\97.2 -0.6\\96.6 0.3\\
};
\addplot[cbrn] table[row sep=\\, y expr=\thisrowno{1}+288] {
134.0 -0.4\\133.4 0.6\\132.8 -0.1\\132.2 0.3\\131.6 -0.6\\131.0 0.8\\130.4 -0.3\\129.8 0.2\\129.2 0.5\\128.6 -0.5\\128.0 0.1\\127.4 0.7\\126.8 -0.4\\126.2 0.3\\125.6 -0.2\\125.0 0.6\\124.4 -0.7\\123.8 0.2\\123.2 0.4\\122.6 -0.3\\
122.45 0.0\\122.3 2.5\\122.15 0.0\\122.05 -2.5\\121.9 0.0\\
121.4 0.5\\120.8 -0.2\\120.2 0.7\\119.6 -0.6\\119.0 0.3\\118.4 0.1\\117.8 -0.4\\117.2 0.6\\116.6 -0.3\\116.0 0.2\\115.4 0.8\\114.8 -0.5\\114.2 0.1\\113.6 -0.2\\
113.12 0.8\\112.97 2.3\\112.88 8.6\\112.825 15.6\\112.77 19\\112.715 15.6\\112.66 8.6\\112.57 2.3\\112.42 0.8\\
111.78 -0.2\\
111.15 -0.8\\111.00 -2.5\\110.91 -9.5\\110.855 -17.2\\110.80 -21\\110.745 -17.2\\110.69 -9.5\\110.60 -2.5\\110.45 -0.8\\
109.8 -0.3\\109.2 0.6\\108.6 -0.5\\108.0 0.2\\107.4 0.4\\106.8 -0.7\\106.2 0.3\\105.6 -0.1\\105.0 0.6\\104.4 -0.4\\103.8 0.5\\103.2 0.1\\102.6 -0.6\\102.0 0.3\\101.4 0.7\\100.8 -0.2\\100.2 0.2\\99.6 -0.5\\99.0 0.4\\98.4 -0.1\\97.8 0.6\\97.2 -0.4\\96.6 0.2\\
};
\addplot[cpur] table[row sep=\\, y expr=\thisrowno{1}+224] {
134.0 0.6\\133.4 -0.3\\132.8 0.2\\132.2 -0.7\\131.6 0.5\\131.0 0.1\\130.4 -0.5\\129.8 0.8\\129.2 -0.2\\128.6 0.3\\128.0 -0.6\\127.4 0.4\\126.8 0.2\\126.2 -0.4\\125.6 0.7\\125.0 -0.1\\124.4 -0.5\\123.8 0.3\\123.2 0.6\\122.6 -0.3\\
122.45 0.0\\122.3 3.0\\122.15 0.2\\122.05 -3.0\\121.9 0.0\\
121.4 0.2\\120.8 -0.6\\120.2 0.5\\119.6 0.1\\119.0 -0.3\\118.4 0.8\\117.8 -0.5\\117.2 0.3\\116.6 0.4\\116.0 -0.2\\115.4 -0.7\\114.8 0.5\\114.2 0.2\\113.6 -0.4\\
113.03 1.2\\112.88 3.6\\112.79 13.5\\112.735 24.6\\112.68 30\\112.625 24.6\\112.57 13.5\\112.48 3.6\\112.33 1.2\\
111.69 0.3\\
111.06 -1.0\\110.91 -3.1\\110.82 -11.7\\110.765 -21.3\\110.71 -26\\110.655 -21.3\\110.60 -11.7\\110.51 -3.1\\110.36 -1.0\\
109.8 0.3\\109.2 -0.5\\108.6 0.6\\108.0 -0.1\\107.4 0.2\\106.8 -0.7\\106.2 0.5\\105.6 0.3\\105.0 -0.4\\104.4 0.1\\103.8 0.7\\103.2 -0.3\\102.6 0.2\\102.0 -0.6\\101.4 0.4\\100.8 0.1\\100.2 -0.2\\99.6 0.6\\99.0 -0.5\\98.4 0.3\\97.8 -0.1\\97.2 0.4\\96.6 -0.3\\
};
\addplot[cred] table[row sep=\\, y expr=\thisrowno{1}+161] {
134.0 -0.2\\133.4 0.5\\132.8 -0.6\\132.2 0.3\\131.6 0.8\\131.0 -0.4\\130.4 0.1\\129.8 -0.7\\129.2 0.6\\128.6 0.2\\128.0 -0.3\\127.4 0.5\\126.8 -0.5\\126.2 0.4\\125.6 -0.1\\125.0 0.7\\124.4 -0.4\\123.8 0.2\\123.2 0.3\\122.6 -0.6\\
122.45 0.0\\122.3 3.5\\122.15 -0.5\\122.05 -3.8\\121.9 0.2\\
121.4 0.4\\120.8 -0.3\\120.2 0.7\\119.6 -0.5\\119.0 0.1\\118.4 0.6\\117.8 -0.2\\117.2 -0.4\\116.6 0.5\\116.0 0.2\\115.4 -0.7\\114.8 0.3\\114.2 0.6\\113.6 -0.3\\
112.93 1.4\\112.78 4.1\\112.69 15.3\\112.635 27.9\\112.58 34\\112.525 27.9\\112.47 15.3\\112.38 4.1\\112.23 1.4\\
111.60 -0.3\\
110.96 -1.4\\110.81 -4.2\\110.72 -15.8\\110.665 -28.7\\110.61 -35\\110.555 -28.7\\110.50 -15.8\\110.41 -4.2\\110.26 -1.4\\
109.8 -0.4\\109.2 0.5\\108.6 0.2\\108.0 -0.6\\107.4 0.7\\106.8 -0.3\\106.2 0.1\\105.6 0.4\\105.0 -0.5\\104.4 0.6\\103.8 -0.2\\103.2 0.3\\102.6 -0.7\\102.0 0.5\\101.4 0.1\\100.8 -0.4\\100.2 0.8\\99.6 -0.3\\99.0 0.2\\98.4 -0.5\\97.8 0.4\\97.2 0.1\\96.6 -0.3\\
};
\addplot[cblu] table[row sep=\\, y expr=\thisrowno{1}+97] {
134.0 0.5\\133.4 -0.4\\132.8 0.3\\132.2 -0.8\\131.6 0.6\\131.0 0.2\\130.4 -0.5\\129.8 0.4\\129.2 -0.1\\128.6 0.7\\128.0 -0.6\\127.4 0.3\\126.8 0.1\\126.2 -0.4\\125.6 0.5\\125.0 -0.3\\124.4 0.8\\123.8 -0.2\\123.2 -0.5\\122.6 0.4\\
122.45 0.0\\122.3 3.8\\122.15 0.3\\122.05 -3.0\\121.9 0.0\\
121.4 -0.6\\120.8 0.3\\120.2 0.5\\119.6 -0.2\\119.0 0.7\\118.4 -0.4\\117.8 0.1\\117.2 -0.7\\116.6 0.4\\116.0 0.2\\115.4 -0.3\\114.8 0.6\\114.2 -0.5\\113.6 0.3\\
112.83 1.4\\112.68 4.1\\112.59 15.3\\112.535 27.9\\112.48 34\\112.425 27.9\\112.37 15.3\\112.28 4.1\\112.13 1.4\\
111.50 0.2\\
110.86 -1.2\\110.71 -3.6\\110.62 -13.5\\110.565 -24.6\\110.51 -30\\110.455 -24.6\\110.40 -13.5\\110.31 -3.6\\110.16 -1.2\\
109.8 0.4\\109.2 -0.7\\108.6 0.3\\108.0 0.6\\107.4 -0.2\\106.8 0.1\\106.2 -0.5\\105.6 0.7\\105.0 -0.3\\104.4 0.4\\103.8 0.2\\103.2 -0.6\\102.6 0.5\\102.0 -0.1\\101.4 0.3\\100.8 -0.4\\100.2 0.6\\99.6 0.2\\99.0 -0.5\\98.4 0.7\\97.8 -0.2\\97.2 0.1\\96.6 -0.4\\
};
\addplot[cgrn] table[row sep=\\, y expr=\thisrowno{1}+32] {
134.0 -0.6\\133.4 0.8\\132.8 -0.3\\132.2 0.5\\131.6 -0.9\\131.0 0.4\\130.4 0.1\\129.8 -0.5\\129.2 0.7\\128.6 -0.2\\128.0 0.3\\127.4 -0.8\\126.8 0.6\\126.2 0.2\\125.6 -0.4\\125.0 0.9\\124.4 -0.6\\123.8 0.3\\123.2 -0.1\\122.6 0.5\\
122.45 0.0\\122.3 3.5\\122.15 0.0\\122.05 -3.5\\121.9 0.0\\
121.4 -0.5\\120.8 0.7\\120.2 -0.2\\119.6 0.4\\119.0 -0.8\\118.4 0.6\\117.8 0.2\\117.2 -0.4\\116.6 0.9\\116.0 -0.3\\115.4 0.1\\114.8 0.5\\114.2 -0.7\\113.6 0.3\\
112.74 1.6\\112.59 4.8\\112.50 18\\112.445 32.8\\112.39 40\\112.335 32.8\\112.28 18\\112.19 4.8\\112.04 1.6\\
111.42 -0.4\\
110.77 -1.3\\110.62 -3.8\\110.53 -14.4\\110.475 -26.2\\110.42 -32\\110.365 -26.2\\110.31 -14.4\\110.22 -3.8\\110.07 -1.3\\
109.8 -0.3\\109.2 0.6\\108.6 -0.7\\108.0 0.4\\107.4 0.1\\106.8 -0.5\\106.2 0.8\\105.6 -0.2\\105.0 0.3\\104.4 -0.6\\103.8 0.5\\103.2 0.2\\102.6 -0.4\\102.0 0.7\\101.4 -0.1\\100.8 0.3\\100.2 -0.8\\99.6 0.5\\99.0 -0.2\\98.4 0.4\\97.8 0.6\\97.2 -0.5\\96.6 0.2\\
};
\draw[black!55, line width=0.8pt] (axis description cs:1,1) -- (axis description cs:0,1) -- (axis description cs:0,0) -- (axis description cs:1,0);
\draw[cpink, line width=0.9pt] (axis description cs:0.982,1) -- (axis description cs:1,1);
\node[klab] at (axis cs:133.27,489) {\lab{368 K}};
\node[klab] at (axis cs:133.27,427) {\lab{358 K}};
\node[klab] at (axis cs:133.27,365) {\lab{348 K}};
\node[klab] at (axis cs:133.27,303) {\lab{338 K}};
\node[klab] at (axis cs:133.27,239) {\lab{328 K}};
\node[klab] at (axis cs:133.27,176) {\lab{318 K}};
\node[klab] at (axis cs:133.27,112) {\lab{308 K}};
\node[klab] at (axis cs:133.27,47) {\lab{298 K}};
\node[plab] at (axis description cs:0.951,0.90) {(C)};
\node[ppm] at (axis description cs:0.971,0) {[ppm]};
\end{axis}
\pgfresetboundingbox
\path[use as bounding box] (0,0) rectangle (415pt,836.5pt);
\end{tikzpicture}
\end{document}
